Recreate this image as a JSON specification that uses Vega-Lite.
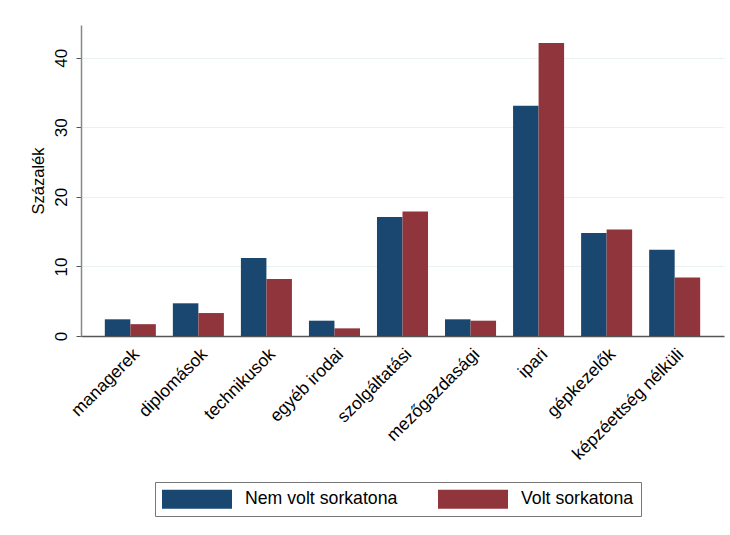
{
  "$schema": "https://vega.github.io/schema/vega-lite/v6.json",
  "width": 643,
  "height": 311,
  "autosize": {"type": "none"},
  "padding": {"left": 81, "top": 25, "right": 6, "bottom": 199},
  "background": "white",
  "config": {
    "view": {"stroke": null},
    "font": "Liberation Sans",
    "axis": {"labelFont": "Liberation Sans", "titleFont": "Liberation Sans", "labelColor": "#000", "titleColor": "#000", "titleFontWeight": "normal"}
  },
  "data": {
    "values": [
      {"cat": "managerek", "grp": "Nem volt sorkatona", "v": 2.4},
      {"cat": "managerek", "grp": "Volt sorkatona", "v": 1.7},
      {"cat": "diplomások", "grp": "Nem volt sorkatona", "v": 4.7},
      {"cat": "diplomások", "grp": "Volt sorkatona", "v": 3.3},
      {"cat": "technikusok", "grp": "Nem volt sorkatona", "v": 11.2},
      {"cat": "technikusok", "grp": "Volt sorkatona", "v": 8.2},
      {"cat": "egyéb irodai", "grp": "Nem volt sorkatona", "v": 2.2},
      {"cat": "egyéb irodai", "grp": "Volt sorkatona", "v": 1.1},
      {"cat": "szolgáltatási", "grp": "Nem volt sorkatona", "v": 17.1},
      {"cat": "szolgáltatási", "grp": "Volt sorkatona", "v": 17.9},
      {"cat": "mezőgazdasági", "grp": "Nem volt sorkatona", "v": 2.4},
      {"cat": "mezőgazdasági", "grp": "Volt sorkatona", "v": 2.2},
      {"cat": "ipari", "grp": "Nem volt sorkatona", "v": 33.1},
      {"cat": "ipari", "grp": "Volt sorkatona", "v": 42.1},
      {"cat": "gépkezelők", "grp": "Nem volt sorkatona", "v": 14.8},
      {"cat": "gépkezelők", "grp": "Volt sorkatona", "v": 15.3},
      {"cat": "képzéettség nélküli", "grp": "Nem volt sorkatona", "v": 12.4},
      {"cat": "képzéettség nélküli", "grp": "Volt sorkatona", "v": 8.4}
    ]
  },
  "mark": {"type": "bar"},
  "encoding": {
    "x": {
      "field": "cat",
      "type": "nominal",
      "sort": null,
      "scale": {"paddingInner": 0.25, "paddingOuter": 0.35},
      "axis": {
        "title": null,
        "labelAngle": -45,
        "labelFontSize": 17.5,
        "ticks": false,
        "labelPadding": 9,
        "domainColor": "#555",
        "domainWidth": 1.5,
        "grid": false
      }
    },
    "xOffset": {"field": "grp", "type": "nominal", "sort": ["Nem volt sorkatona", "Volt sorkatona"], "scale": {"paddingInner": 0, "paddingOuter": 0}},
    "y": {
      "field": "v",
      "type": "quantitative",
      "scale": {"domain": [0, 44.7], "nice": false},
      "axis": {
        "title": "Százalék",
        "titleFontSize": 16.5,
        "titlePadding": 6,
        "values": [0, 10, 20, 30, 40],
        "labelAngle": -90,
        "labelFontSize": 17,
        "labelPadding": 6,
        "tickSize": 5,
        "tickColor": "#555",
        "domainColor": "#888",
        "domainWidth": 1.5,
        "grid": true,
        "gridColor": "#e9f1f3",
        "gridWidth": 1
      }
    },
    "color": {
      "field": "grp",
      "type": "nominal",
      "scale": {"domain": ["Nem volt sorkatona", "Volt sorkatona"], "range": ["#1a476f", "#90353b"]},
      "legend": {
        "title": null,
        "orient": "none",
        "legendX": 74,
        "legendY": 457,
        "direction": "horizontal",
        "strokeColor": "#777",
        "padding": 7,
        "symbolType": "M-1,-0.95H6V0.95H-1Z",
        "symbolSize": 400,
        "symbolStrokeWidth": 0,
        "symbolOpacity": 1,
        "labelFontSize": 17.7,
        "labelFont": "Liberation Sans",
        "labelOffset": 63,
        "columnPadding": 40,
        "labelColor": "#000"
      }
    }
  }
}
